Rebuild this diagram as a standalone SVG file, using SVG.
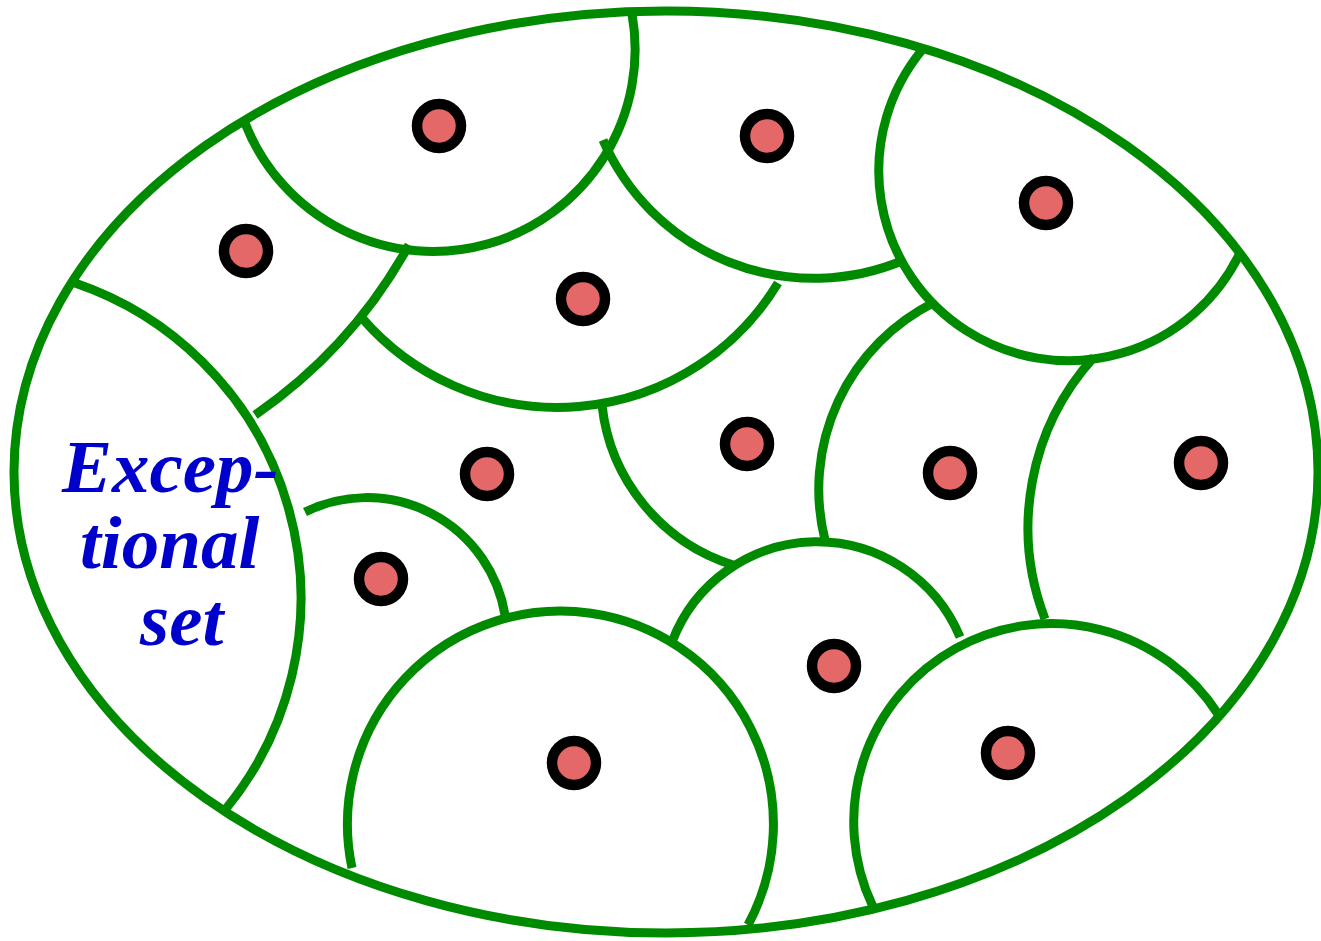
<svg xmlns="http://www.w3.org/2000/svg" width="1321" height="941" viewBox="0 0 1321 941">
<style>
.b{fill:none;stroke:#008a00;stroke-width:9}
.d{fill:#e46868;stroke:#000;stroke-width:10.5}
.t{font-family:"Liberation Serif","Times New Roman",serif;font-weight:bold;font-style:italic;font-size:75px;fill:#0000cc}
</style>
<rect width="1321" height="941" fill="#fff"/>
<g id="boundary">
<ellipse class="b" cx="666" cy="472" rx="652" ry="461"/>
</g>
<g id="connectors">
<path class="b" d="M245 123 A202 202 0 0 0 632 14"/>
<path class="b" d="M603 140 A230 230 0 0 0 904 260"/>
<path class="b" d="M922 50 A190 190 0 1 0 1240 253"/>
<path class="b" d="M255 415 A500 500 0 0 0 409 245"/>
<path class="b" d="M362 318 A258 258 0 0 0 778 283"/>
<path class="b" d="M602 405 A189 189 0 0 0 733 565"/>
<path class="b" d="M935 302 A209 209 0 0 0 825 540"/>
<path class="b" d="M1094 357 A254 254 0 0 0 1045 619"/>
<path class="b" d="M305 512 A140 140 0 0 1 505 615"/>
<path class="b" d="M352 868 A213 213 0 1 1 748 925"/>
<path class="b" d="M672 642 A155 155 0 0 1 960 637"/>
<path class="b" d="M872.5 905.7 A198 198 0 0 1 1218.1 714.2"/>
<path class="b" d="M75 283 A333 333 0 0 1 225 810"/>
</g>
<g id="points">
<circle class="d" cx="439" cy="126" r="22"/>
<circle class="d" cx="767" cy="136" r="22"/>
<circle class="d" cx="1046" cy="203" r="22"/>
<circle class="d" cx="246" cy="251" r="22"/>
<circle class="d" cx="583" cy="299" r="22"/>
<circle class="d" cx="747" cy="444" r="22"/>
<circle class="d" cx="487" cy="474" r="22"/>
<circle class="d" cx="950" cy="473" r="22"/>
<circle class="d" cx="1201" cy="463" r="22"/>
<circle class="d" cx="381" cy="579" r="22"/>
<circle class="d" cx="834" cy="666" r="22"/>
<circle class="d" cx="574" cy="763" r="22"/>
<circle class="d" cx="1008" cy="753" r="22"/>
</g>
<g id="label">
<text class="t" x="62" y="492">Excep-</text>
<text class="t" x="80" y="568">tional</text>
<text class="t" x="140" y="645">set</text>
</g>
</svg>
